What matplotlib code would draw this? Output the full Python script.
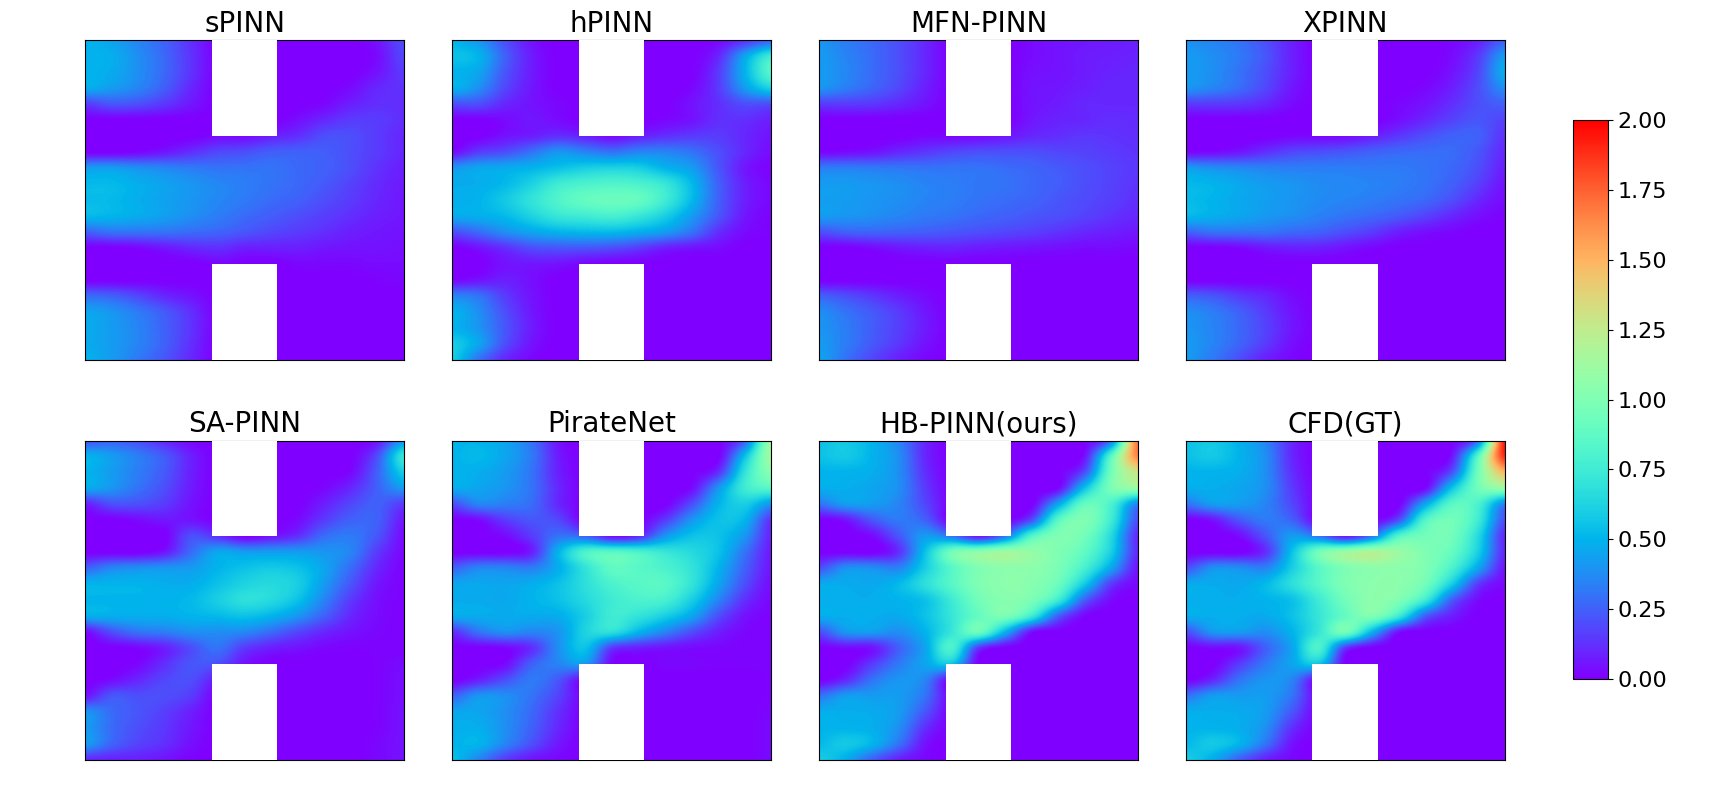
import numpy as np
import matplotlib
matplotlib.use("Agg")
import matplotlib.pyplot as plt
from matplotlib.patches import Rectangle

titles = ["sPINN", "hPINN", "MFN-PINN", "XPINN", "SA-PINN", "PirateNet", "HB-PINN(ours)", "CFD(GT)"]
colorbar_ticks = [0.0, 0.25, 0.5, 0.75, 1.0, 1.25, 1.5, 1.75, 2.0]
# Speed in hundredths; rows run from y=1 down to y=0, columns from x=0 to x=1.
spinn = [
 [50,45,35,25,12,0,0,0,0,0,0,5,20],
 [50,48,38,27,13,0,0,0,0,0,0,3,18],
 [50,47,38,27,13,0,0,0,0,0,0,5,15],
 [48,42,35,24,10,0,0,0,0,0,3,10,13],
 [15,22,20,14,6,0,0,0,0,2,8,12,12],
 [0,0,0,0,0,0,0,0,4,10,15,15,12],
 [0,0,0,0,0,3,3,8,12,20,20,15,10],
 [0,0,2,6,12,18,20,24,25,24,20,15,10],
 [42,42,38,35,32,30,30,30,27,25,20,13,8],
 [52,52,48,44,40,36,33,30,27,23,17,11,7],
 [53,52,48,44,40,36,32,28,25,20,15,10,6],
 [52,50,47,43,38,33,28,24,20,16,12,8,6],
 [25,30,30,30,28,26,22,18,15,12,8,6,5],
 [0,0,2,6,10,12,8,8,8,6,5,5,4],
 [0,0,0,0,0,2,0,0,2,2,2,3,3],
 [0,0,0,0,0,0,0,0,0,0,0,1,2],
 [28,25,18,10,5,0,0,0,0,0,0,0,0],
 [45,40,32,23,12,0,0,0,0,0,0,0,0],
 [47,42,35,25,13,0,0,0,0,0,0,0,0],
 [47,42,35,25,12,0,0,0,0,0,0,0,0],
 [50,42,32,22,10,0,0,0,0,0,0,0,0],
]
hpinn = [
 [50,40,20,5,0,0,0,0,0,0,2,12,25],
 [55,50,25,7,0,0,0,0,0,0,10,45,75],
 [50,45,22,7,0,0,0,0,0,0,15,50,85],
 [50,38,18,6,0,0,0,0,0,2,15,42,62],
 [20,20,10,5,2,0,0,0,0,5,12,20,20],
 [0,0,3,6,3,0,0,0,2,5,12,12,8],
 [0,0,5,8,12,8,3,8,12,15,15,10,5],
 [3,15,20,30,40,35,30,35,35,30,20,10,3],
 [40,45,47,50,55,60,62,60,50,42,22,6,1],
 [47,48,52,62,75,80,82,80,72,52,25,8,2],
 [48,50,58,70,82,90,92,90,75,52,25,8,2],
 [47,48,52,62,72,75,78,72,60,42,22,6,1],
 [20,28,38,45,50,52,52,48,42,30,12,3,1],
 [0,5,12,20,22,22,20,15,8,5,3,0,0],
 [0,0,5,6,5,2,0,0,0,0,0,0,0],
 [2,5,8,4,0,0,0,0,0,0,0,0,0],
 [35,30,15,5,0,0,0,0,0,0,0,0,0],
 [50,38,20,6,0,0,0,0,0,0,0,0,0],
 [50,40,22,7,0,0,0,0,0,0,0,0,0],
 [60,45,20,5,0,0,0,0,0,0,0,0,0],
 [60,30,10,2,0,0,0,0,0,0,0,0,0],
]
mfn_pinn = [
 [40,33,27,20,10,0,0,0,3,5,6,7,8],
 [42,35,28,20,10,0,0,0,3,5,7,8,9],
 [42,36,28,20,10,0,0,0,4,5,7,9,10],
 [40,33,26,18,8,0,0,0,5,6,8,10,10],
 [15,15,14,10,5,0,0,0,5,7,10,10,10],
 [0,0,0,0,0,0,0,0,6,9,10,12,11],
 [0,0,0,0,2,2,3,6,10,12,14,13,12],
 [2,3,5,10,14,18,20,20,20,18,17,15,13],
 [33,33,32,31,30,30,30,28,26,23,20,17,14],
 [42,42,40,38,35,33,31,30,27,24,20,17,13],
 [43,42,40,38,35,33,30,28,26,22,19,16,12],
 [42,40,38,35,32,30,27,25,22,20,17,13,10],
 [20,25,26,25,24,22,20,18,16,13,10,8,6],
 [0,0,3,6,8,9,7,6,5,4,3,3,2],
 [0,0,0,0,0,0,0,0,0,0,0,0,0],
 [0,0,0,0,0,0,0,0,0,0,0,0,0],
 [25,20,14,8,3,0,0,0,0,0,0,0,0],
 [38,30,23,15,6,0,0,0,0,0,0,0,0],
 [40,33,24,16,7,0,0,0,0,0,0,0,0],
 [42,33,23,14,5,0,0,0,0,0,0,0,0],
 [45,30,18,8,2,0,0,0,0,0,0,0,0],
]
xpinn = [
 [38,35,30,20,8,0,0,0,0,0,2,8,25],
 [42,38,32,22,8,0,0,0,0,0,3,15,42],
 [42,38,30,20,8,0,0,0,0,0,5,18,48],
 [40,35,28,18,6,0,0,0,0,2,8,20,38],
 [15,15,14,10,3,0,0,0,2,5,12,20,25],
 [0,0,0,0,0,0,0,0,4,10,17,22,17],
 [0,0,0,0,2,2,3,8,14,20,25,25,13],
 [2,3,6,12,18,20,22,25,27,28,28,22,10],
 [42,38,36,34,33,33,33,32,32,30,27,20,8],
 [52,50,46,42,40,37,36,35,33,30,25,16,5],
 [53,50,46,43,40,37,35,33,30,27,20,10,3],
 [52,48,45,41,38,34,30,27,23,17,10,4,1],
 [25,30,30,30,27,25,20,15,8,4,2,0,0],
 [0,0,2,6,8,8,5,2,0,0,0,0,0],
 [0,0,0,0,0,0,0,0,0,0,0,0,0],
 [0,0,0,0,0,0,0,0,0,0,0,0,0],
 [25,22,15,10,3,0,0,0,0,0,0,0,0],
 [38,33,25,15,5,0,0,0,0,0,0,0,0],
 [40,35,27,17,6,0,0,0,0,0,0,0,0],
 [42,35,26,15,4,0,0,0,0,0,0,0,0],
 [42,32,20,8,2,0,0,0,0,0,0,0,0],
]
sa_pinn = [
 [20,25,20,10,2,0,0,0,0,0,0,5,40],
 [50,42,33,23,8,0,0,0,0,0,0,20,72],
 [50,42,33,23,8,0,0,0,0,0,2,25,60],
 [47,40,30,20,7,0,0,0,0,2,10,25,42],
 [8,20,20,15,5,0,0,0,0,8,18,25,15],
 [0,0,3,6,5,0,0,0,3,15,25,25,6],
 [0,0,0,0,20,12,0,5,12,28,32,22,3],
 [0,0,0,6,28,45,42,42,42,40,35,15,2],
 [25,35,38,40,42,50,55,58,55,45,28,10,1],
 [50,50,50,48,48,55,62,65,60,42,22,6,1],
 [50,50,50,50,52,60,68,65,55,35,15,4,1],
 [48,48,48,48,50,52,55,50,40,25,10,3,1],
 [3,20,30,33,38,38,36,28,18,10,5,2,1],
 [0,0,2,8,20,30,15,8,5,2,1,1,1],
 [0,0,2,12,22,20,5,0,0,0,0,1,3],
 [0,3,10,18,20,6,0,0,0,0,0,1,4],
 [5,22,20,20,15,0,0,0,0,0,0,1,4],
 [40,28,22,16,8,0,0,0,0,0,0,1,5],
 [42,28,20,14,6,0,0,0,0,0,0,1,5],
 [42,26,17,12,4,0,0,0,0,0,0,2,5],
 [10,8,8,5,1,0,0,0,0,0,0,2,5],
]
piratenet = [
 [50,50,45,30,5,0,0,0,0,0,0,25,115],
 [50,52,45,32,7,0,0,0,0,0,0,55,115],
 [50,48,42,30,8,0,0,0,0,0,12,70,105],
 [48,45,40,30,10,0,0,0,0,3,40,75,85],
 [20,35,33,28,10,0,0,0,0,20,50,60,40],
 [0,3,15,22,18,0,0,0,15,40,55,50,12],
 [0,0,3,15,30,25,3,10,40,55,55,40,8],
 [0,0,0,8,50,80,85,80,72,65,55,30,6],
 [25,35,35,33,48,70,88,85,80,70,50,25,5],
 [45,46,45,48,55,68,80,85,85,70,45,20,3],
 [47,47,46,50,55,65,75,80,78,60,35,12,2],
 [47,47,47,47,48,60,75,70,60,45,20,5,1],
 [12,30,38,35,40,62,68,50,35,20,8,2,1],
 [0,0,2,12,38,55,15,8,5,3,2,1,1],
 [0,0,3,25,35,40,2,0,2,2,1,1,1],
 [0,8,20,32,22,0,0,0,0,0,0,0,1],
 [25,40,38,30,17,0,0,0,0,0,0,0,1],
 [45,45,38,27,12,0,0,0,0,0,0,0,2],
 [48,48,38,25,10,0,0,0,0,0,0,0,3],
 [50,50,35,20,6,0,0,0,0,0,0,0,3],
 [55,35,15,5,2,0,0,0,0,0,0,0,3],
]
hb_pinn = [
 [55,58,50,35,10,0,0,0,0,0,0,30,170],
 [55,58,50,38,10,0,0,0,0,0,5,85,165],
 [50,50,48,38,12,0,0,0,0,0,20,95,130],
 [48,48,45,38,15,0,0,0,0,2,55,98,110],
 [30,42,42,35,18,0,0,0,0,45,90,80,35],
 [0,5,22,32,25,0,0,0,20,85,100,75,20],
 [0,0,3,22,42,30,5,30,82,100,95,65,10],
 [0,0,0,12,55,95,105,112,108,100,88,60,10],
 [20,38,38,35,60,85,100,105,105,98,78,45,5],
 [47,47,46,52,68,85,100,105,103,92,58,15,2],
 [48,48,48,50,55,75,95,103,98,75,25,3,0],
 [48,48,48,47,55,72,90,98,75,25,2,0,0],
 [20,40,42,38,50,72,92,50,5,0,0,0,0],
 [0,3,5,25,45,80,15,0,0,0,0,0,0],
 [0,0,15,32,45,55,0,0,0,0,0,0,0],
 [0,10,30,40,35,0,0,0,0,0,0,0,0],
 [30,42,42,42,30,0,0,0,0,0,0,0,0],
 [48,48,47,42,22,0,0,0,0,0,0,0,0],
 [50,50,48,38,12,0,0,0,0,0,0,0,0],
 [52,58,50,30,5,0,0,0,0,0,0,0,0],
 [60,48,25,8,2,0,0,0,0,0,0,0,0],
]
cfd_gt = [
 [55,58,50,35,10,0,0,0,0,0,0,30,195],
 [55,58,50,38,10,0,0,0,0,0,5,85,190],
 [50,50,48,38,12,0,0,0,0,0,20,95,150],
 [48,48,45,38,15,0,0,0,0,2,55,95,110],
 [30,42,42,35,18,0,0,0,0,45,85,80,35],
 [0,5,22,32,25,0,0,0,20,82,95,75,20],
 [0,0,3,22,42,30,5,30,82,95,95,65,10],
 [0,0,0,12,55,95,110,118,110,100,90,60,10],
 [20,38,38,35,60,85,100,105,105,100,80,45,5],
 [47,47,46,52,68,85,100,105,105,95,60,15,2],
 [48,48,48,50,55,75,95,105,100,75,25,3,0],
 [48,48,48,47,55,72,90,100,75,25,8,0,0],
 [20,40,42,38,50,72,95,50,5,0,0,0,0],
 [0,3,5,25,45,80,15,0,0,0,0,0,0],
 [0,0,15,32,45,55,0,0,0,0,0,0,0],
 [0,10,30,40,35,0,0,0,0,0,0,0,0],
 [30,42,42,42,30,0,0,0,0,0,0,0,0],
 [48,48,47,42,22,0,0,0,0,0,0,0,0],
 [50,50,48,38,12,0,0,0,0,0,0,0,0],
 [52,58,50,30,5,0,0,0,0,0,0,0,0],
 [60,48,25,8,2,0,0,0,0,0,0,0,0],
]
fields = [spinn, hpinn, mfn_pinn, xpinn, sa_pinn, piratenet, hb_pinn, cfd_gt]

W, H = 1709, 800
panel_lefts = [85.0, 452.0, 819.0, 1185.5]
panel_tops = [40.5, 440.5]
panel_w, panel_h = 319.0, 319.5
fig = plt.figure(figsize=(W / 100, H / 100), dpi=100)

def axes_px(l, t, w, h):
    return fig.add_axes([l / W, 1 - (t + h) / H, w / W, h / H])

im = None
for i, (name, field) in enumerate(zip(titles, fields)):
    ax = axes_px(panel_lefts[i % 4], panel_tops[i // 4], panel_w, panel_h)
    z = np.array(field, dtype=float) / 100
    dy = 1 / (z.shape[0] - 1)
    dx = 1 / (z.shape[1] - 1)
    im = ax.imshow(z, cmap="rainbow", vmin=0, vmax=2, interpolation="catrom", aspect="auto",
                   extent=(-dx / 2, 1 + dx / 2, -dy / 2, 1 + dy / 2), origin="upper")
    ax.add_patch(Rectangle((0.398, 0.70), 0.204, 0.31, fc="white", ec="none", zorder=3))
    ax.add_patch(Rectangle((0.398, -0.01), 0.204, 0.31, fc="white", ec="none", zorder=3))
    ax.set_xlim(0, 1)
    ax.set_ylim(0, 1)
    ax.set_xticks([])
    ax.set_yticks([])
    ax.set_title(name, fontsize=20, pad=6)

cax = axes_px(1572.8, 120.0, 35.0, 559.0)
cb = fig.colorbar(im, cax=cax, ticks=colorbar_ticks)
cb.ax.set_yticklabels([f"{t:.2f}" for t in colorbar_ticks])
cb.ax.tick_params(labelsize=16)

fig.savefig("out.png", dpi=100)
